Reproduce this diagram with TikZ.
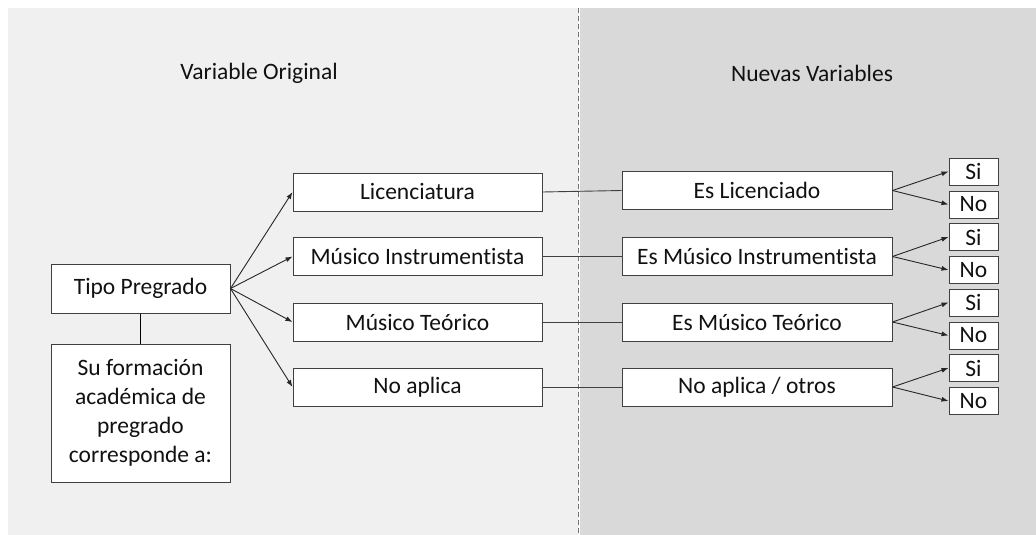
\documentclass[tikz,border=0pt]{standalone}
\usepackage{fontspec}
\setmainfont[Ligatures=NoCommon]{Carlito}
\usetikzlibrary{arrows.meta}
\definecolor{leftbg}{HTML}{F0F0F0}
\definecolor{rightbg}{HTML}{D9D9D9}
\definecolor{boxline}{HTML}{404040}
\definecolor{txt}{HTML}{111111}
\begin{document}
\begin{tikzpicture}[x=1pt,y=-1pt,
  every node/.style={font=\fontsize{23.5}{29}\selectfont, text=txt},
  bx/.style={draw=boxline, line width=1pt, fill=white, inner sep=0pt, align=center},
  optbox/.style={bx, minimum width=249pt, minimum height=38pt},
  newbox/.style={bx, minimum width=270pt, minimum height=38pt},
  ynbox/.style={bx, minimum width=49pt, minimum height=27pt},
  arr/.style={draw=black!85, line width=0.9pt, -{Latex[length=7pt,width=5pt]}},
  lnk/.style={draw=black!75, line width=0.9pt},
  title/.style={inner sep=0pt}
]
\useasboundingbox (0,0) rectangle (1036,535);
\fill[leftbg] (8,8) rectangle (579,535);
\fill[rightbg] (580,8) rectangle (1036,535);
\draw[black!55, line width=1.3pt, dash pattern=on 5pt off 3pt] (578.5,8) -- (578.5,535);

\node[title] (t1) at (259,73) {Variable Original};
\node[title] (t2) at (812,73) {Nuevas Variables};

\node[bx, minimum width=179pt, minimum height=49pt] (tipo) at (140.5,288.5) {Tipo Pregrado};
\node[bx, minimum width=179pt, minimum height=138pt] (su) at (140.5,413) {Su formación\\académica de\\pregrado\\corresponde a:};
\draw[lnk, draw=black] (tipo.south) -- (su.north);

\node[optbox] (lic) at (417.5,192) {Licenciatura};
\node[optbox] (mi) at (417.5,256.5) {Músico Instrumentista};
\node[optbox] (mt) at (417.5,322) {Músico Teórico};
\node[optbox] (na) at (417.5,387) {No aplica};

\foreach \n in {lic,mi,mt,na} \draw[arr] (tipo.east) -- (\n.west);

\node[newbox] (rl) at (757,190.5) {Es Licenciado};
\node[newbox] (rmi) at (757,256.5) {Es Músico Instrumentista};
\node[newbox] (rmt) at (757,322) {Es Músico Teórico};
\node[newbox] (rna) at (757,387) {No aplica / otros};

\draw[lnk] (lic.east) -- (rl.west);
\draw[lnk] (mi.east) -- (rmi.west);
\draw[lnk] (mt.east) -- (rmt.west);
\draw[lnk] (na.east) -- (rna.west);

\node[ynbox] (s1) at (973.5,171.5) {Si};
\node[ynbox] (n1) at (973.5,204.5) {No};
\node[ynbox] (s2) at (973.5,237) {Si};
\node[ynbox] (n2) at (973.5,270) {No};
\node[ynbox] (s3) at (973.5,302.5) {Si};
\node[ynbox] (n3) at (973.5,335.5) {No};
\node[ynbox] (s4) at (973.5,368) {Si};
\node[ynbox] (n4) at (973.5,401) {No};

\draw[arr] (rl.east) -- (s1.west);
\draw[arr] (rl.east) -- (n1.west);
\draw[arr] (rmi.east) -- (s2.west);
\draw[arr] (rmi.east) -- (n2.west);
\draw[arr] (rmt.east) -- (s3.west);
\draw[arr] (rmt.east) -- (n3.west);
\draw[arr] (rna.east) -- (s4.west);
\draw[arr] (rna.east) -- (n4.west);
\end{tikzpicture}
\end{document}
